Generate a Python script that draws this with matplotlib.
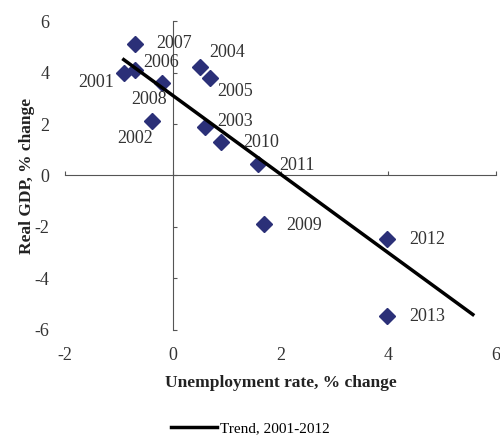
import matplotlib
matplotlib.use("Agg")
import matplotlib.pyplot as plt
import numpy as np

years = ["2001", "2002", "2003", "2004", "2005", "2006", "2007",
         "2008", "2009", "2010", "2011", "2012", "2013"]
unemp = [-0.91, -0.39, 0.59, 0.50, 0.70, -0.70, -0.70,
         -0.20, 1.69, 0.90, 1.59, 3.98, 3.98]
gdp = [4.0, 2.1, 1.87, 4.23, 3.8, 4.1, 5.09,
       3.6, -1.87, 1.3, 0.43, -2.45, -5.44]
trend_x = [-0.91, 5.57]
trend_y = [4.5, -5.4]
xticks = [-2, 0, 2, 4, 6]
yticks = [-6, -4, -2, 0, 2, 4, 6]

# label offsets in points (dx, dy, ha)
offsets = {
    "2001": (-7, -7, "right"), "2002": (-12, -12, "center"),
    "2003": (9, 4, "left"), "2004": (7, 10, "left"),
    "2005": (5, -10, "left"), "2006": (6, 5, "left"),
    "2007": (15, 1, "left"), "2008": (-9, -12, "center"),
    "2009": (16, -1, "left"), "2010": (16, 0, "left"),
    "2011": (15, -1, "left"), "2012": (16, -1, "left"),
    "2013": (16, -1, "left"),
}

plt.rcParams['font.family'] = ['Liberation Serif', 'DejaVu Serif']
plt.rcParams['axes.unicode_minus'] = False

fig = plt.figure(figsize=(5, 4.37), dpi=100)
rect = [0.13, 0.2449, 0.862, 0.707]
fs = 13

# background axes for edge tick labels
ax2 = fig.add_axes(rect)
ax2.set_xlim(-2, 6)
ax2.set_ylim(-6, 6)
ax2.set_xticks(xticks)
ax2.set_yticks(yticks)
for s in ax2.spines.values():
    s.set_visible(False)
ax2.tick_params(length=0, labelsize=fs, colors='#333333')
ax2.tick_params(axis='y', pad=11)
ax2.tick_params(axis='x', pad=12)
ax2.set_xlabel("Unemployment rate, % change", fontsize=12.5, fontweight='bold',
               color='#222222', labelpad=8)
ax2.set_ylabel("Real GDP, % change", fontsize=12.5, fontweight='bold',
               color='#222222', labelpad=0)

ax = fig.add_axes(rect)
ax.patch.set_alpha(0)
ax.set_xlim(-2, 6)
ax.set_ylim(-6, 6)
ax.set_xticks(xticks)
ax.set_yticks(yticks)
ax.spines['left'].set_position(('data', 0))
ax.spines['bottom'].set_position(('data', 0))
ax.spines['right'].set_visible(False)
ax.spines['top'].set_visible(False)
for s in ('left', 'bottom'):
    ax.spines[s].set_color('#555555')
    ax.spines[s].set_linewidth(0.8)
ax.tick_params(direction='in', length=3, width=0.8, color='#555555',
               labelleft=False, labelbottom=False)

ax.plot(unemp, gdp, linestyle='none', marker='D', markersize=8,
        color='#2b3078', zorder=3)
line, = ax.plot(trend_x, trend_y, color='black', linewidth=2.5, zorder=4,
                label="Trend, 2001-2012")

for yr, x, y in zip(years, unemp, gdp):
    dx, dy, ha = offsets[yr]
    ax.annotate(yr, (x, y), xytext=(dx, dy), textcoords='offset points',
                ha=ha, va='center', fontsize=fs, color='#333333', zorder=5)

fig.legend(handles=[line], loc='center', bbox_to_anchor=(0.5, 0.02),
           frameon=False, fontsize=11, handlelength=3, handletextpad=0.2)

fig.savefig("out.png", dpi=100)
